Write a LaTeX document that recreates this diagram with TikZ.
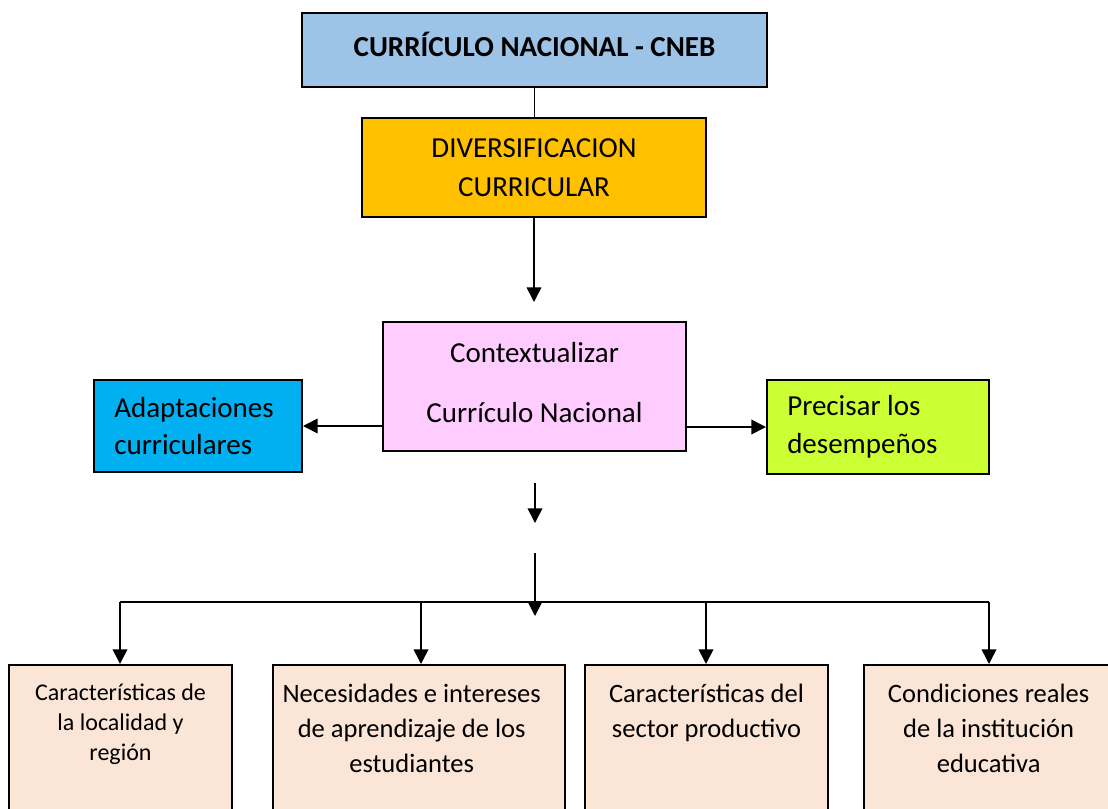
\documentclass[tikz,border=0pt]{standalone}
\usepackage{fontspec}
\setmainfont{Carlito}
\usetikzlibrary{arrows.meta}
\definecolor{cnebblue}{HTML}{9DC3E6}
\definecolor{divorange}{HTML}{FFC000}
\definecolor{ctxpink}{HTML}{FFCCFF}
\definecolor{adaptblue}{HTML}{00B0F0}
\definecolor{preclime}{HTML}{CCFF33}
\definecolor{factpeach}{HTML}{FBE5D6}
\begin{document}
\begin{tikzpicture}[x=0.75pt, y=-0.75pt,
    mybox/.style={draw, line width=1.5pt, inner sep=0pt, align=center},
    mytext/.style={inner sep=0pt},
    myarrow/.style={-{Triangle[length=11pt,width=11pt]}, line width=1.2pt},
    bigfont/.style={font={\fontsize{21.75}{29.25}\selectfont}}]
    \useasboundingbox (0,0) rectangle (1108,808);
    \clip (0,0) rectangle (1108,808);
    % upper boxes
    \node[mybox, fill=cnebblue, minimum width=348.75pt, minimum height=55.5pt] (cneb) at (534.5,50) {};
    \node[mytext, font={\fontsize{21.75}{29.25}\selectfont\bfseries}] (cnebtext) at ([yshift=4.5pt]cneb.center) {CURRÍCULO NACIONAL - CNEB};
    \node[mybox, fill=divorange, bigfont, minimum width=258pt, minimum height=74.25pt] (diver) at (534,167.5) {DIVERSIFICACION\\CURRICULAR};
    \node[mybox, fill=ctxpink, minimum width=227.25pt, minimum height=96.75pt] (ctx) at (534.5,386.5) {};
    \node[mytext, align=center, font={\fontsize{21.75}{45}\selectfont}] (ctxtext) at ([yshift=3pt]ctx.center) {Contextualizar\\Currículo Nacional};
    \node[mybox, fill=adaptblue, minimum width=156pt, minimum height=69pt] (adapt) at (198,426) {};
    \node[mytext, align=left, anchor=west, font={\fontsize{21.75}{27.75}\selectfont}] (adapttext) at ([xshift=15.75pt]adapt.west) {Adaptaciones\\curriculares};
    \node[mybox, fill=preclime, minimum width=166.5pt, minimum height=70.5pt] (prec) at (878,427) {};
    \node[mytext, align=left, anchor=west, font={\fontsize{21.75}{28.5}\selectfont}] (prectext) at ([xshift=15.75pt]prec.west) {Precisar los\\desempeños};
    % connectors
    \draw[line width=1.2pt] (cneb.south) -- (cneb.south |- diver.north);
    \coordinate (ctxin) at (534,302);
    \draw[myarrow] (diver.south) -- (ctxin);
    \draw[myarrow] (ctx.west |- adapt.east) -- (adapt.east);
    \draw[myarrow] (ctx.east |- prec.west) -- (prec.west);
    \coordinate (m1) at (535,483);
    \coordinate (m2) at (535,523);
    \coordinate (m3) at (535,553);
    \coordinate (m4) at (535,616);
    \draw[myarrow] (m1) -- (m2);
    % lower boxes
    \foreach \i/\cx/\w/\tx/\fs/\bs/\txt in {
        1/120.5/167.25/0/18/22.5/{Características de\\la localidad y\\región},
        2/419/219/-5.5/19.9/26.25/{Necesidades e intereses\\de aprendizaje de los\\estudiantes},
        3/706.5/182.25/0/19.9/26.25/{Características del\\sector productivo},
        4/994/195/-4/19.9/26.25/{Condiciones reales\\de la institución\\educativa}}{
      \node[mybox, fill=factpeach, minimum width=\w pt, minimum height=127.5pt, anchor=north] (b\i) at (\cx,664) {};
      \node[mytext, align=center, anchor=north, font={\fontsize{\fs}{\bs}\selectfont}] (t\i) at ([xshift=\tx pt, yshift=-15pt]b\i.north) {\txt};
    }
    \coordinate (busL) at (120,602);
    \coordinate (busR) at (989,602);
    \draw[line width=1.5pt] (busL) -- (busR);
    \foreach \i/\dx in {1/120,2/421,3/706,4/989}{
      \coordinate (d\i) at (\dx,602);
      \draw[myarrow] (d\i) -- (d\i |- b\i.north);
    }
    \draw[myarrow] (m3) -- (m4);
\end{tikzpicture}
\end{document}
